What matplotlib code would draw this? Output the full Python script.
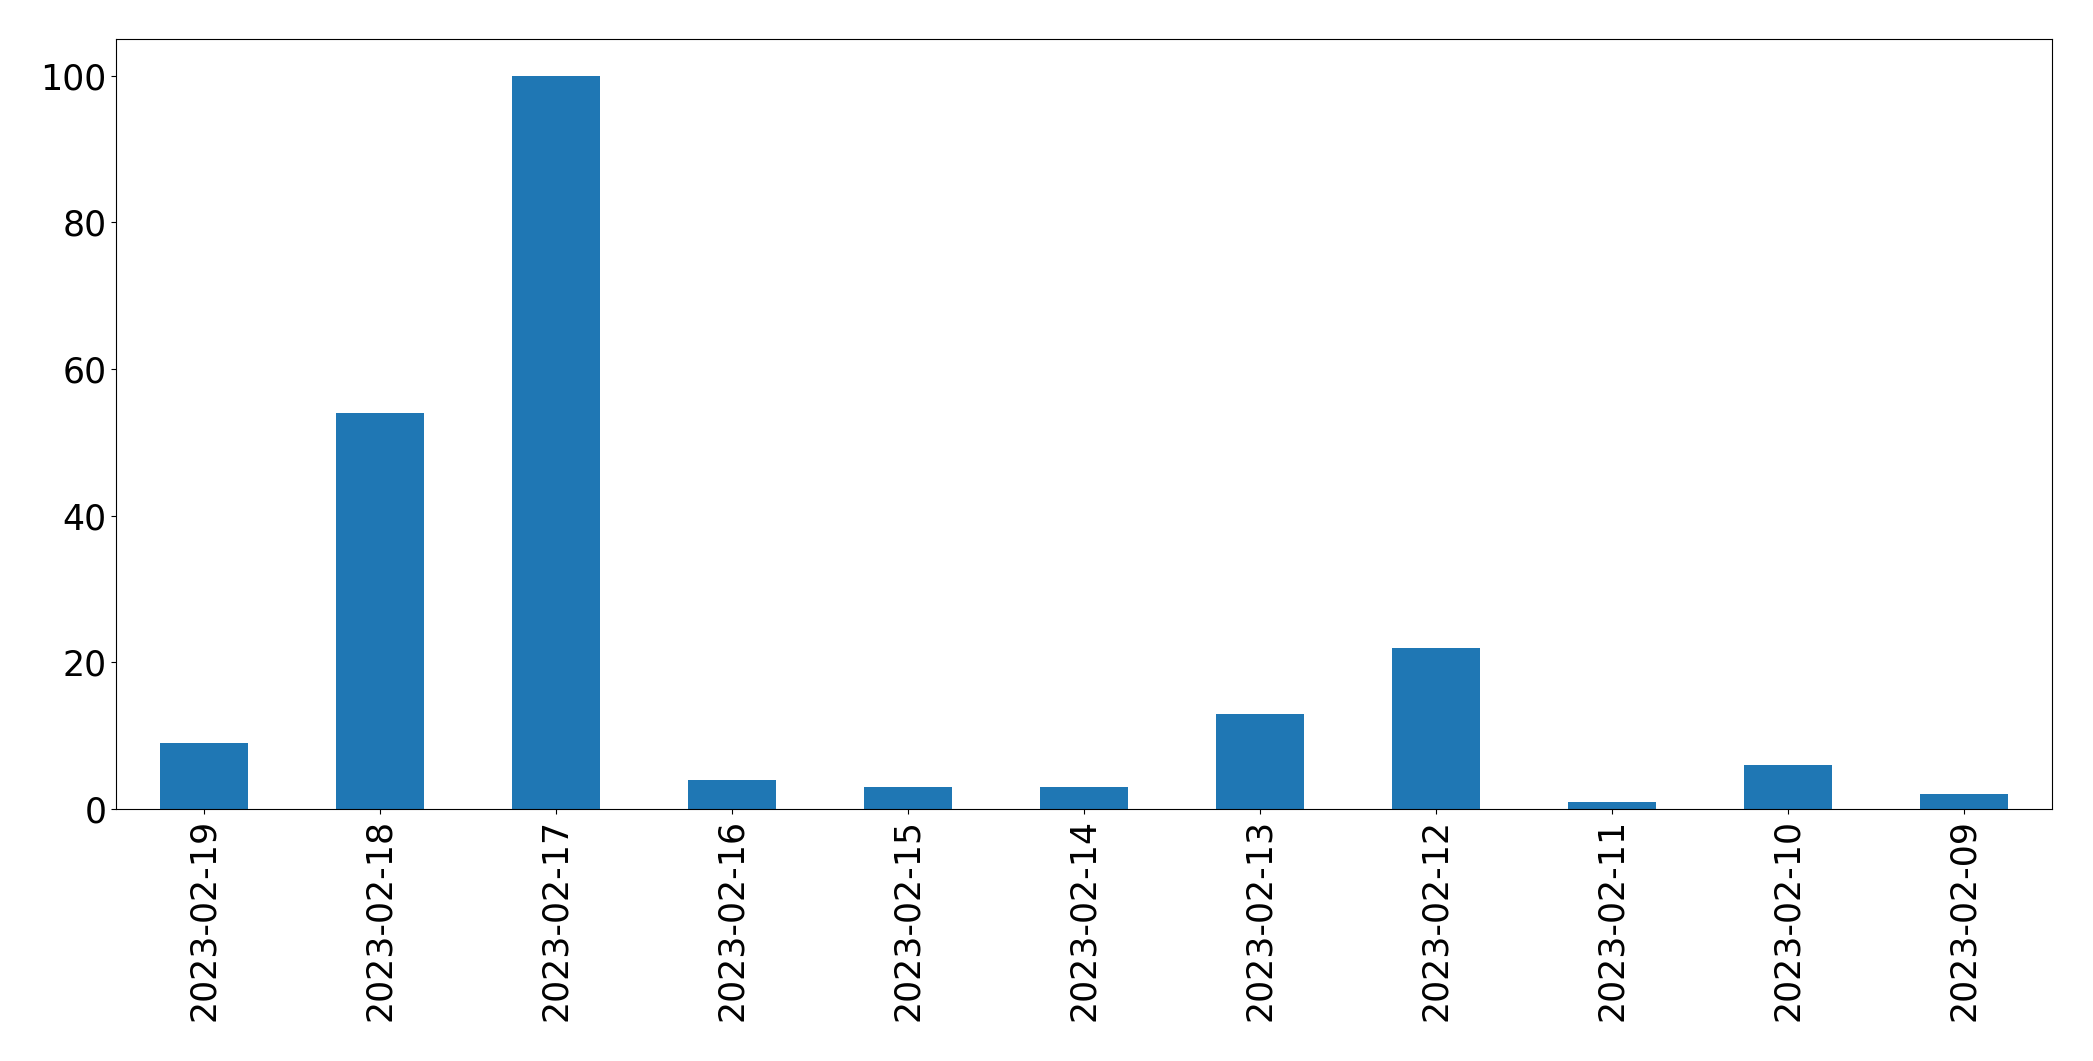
import matplotlib
matplotlib.use('Agg')
import matplotlib.pyplot as plt
import pandas as pd
#
# values
#
dates = ['2023-02-19', '2023-02-18', '2023-02-17', '2023-02-16',
         '2023-02-15', '2023-02-14', '2023-02-13', '2023-02-12',
         '2023-02-11', '2023-02-10', '2023-02-09']
counts = [9, 54, 100, 4, 3, 3, 13, 22, 1, 6, 2]
#
s = pd.Series(counts, index=dates)
#
fig, ax = plt.subplots(figsize=(20.93, 10.61), dpi=100)
s.plot(kind='bar', ax=ax, color='#1f77b4', fontsize=25)
#
ax.tick_params(axis='both', labelsize=25)
plt.subplots_adjust(left=116/2093, right=2052/2093,
                    top=1 - 39/1061, bottom=1 - 809/1061)
#
fig.savefig('out.png', dpi=100)
